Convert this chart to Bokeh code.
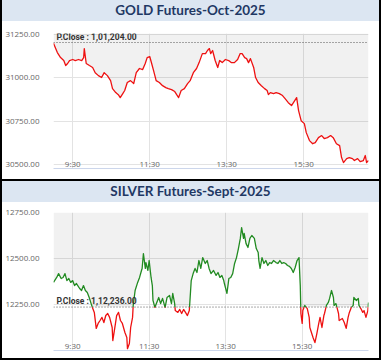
from bokeh.plotting import figure
from bokeh.models import Div, FixedTicker, NumeralTickFormatter, Span, Label, Range1d
from bokeh.layouts import column
from bokeh.core.properties import value
from bokeh.embed import file_html
from bokeh.resources import INLINE

# ---------------- data ----------------
x_ticks = [30, 150, 270, 390]            # minutes after 9:00
x_tick_labels = ["9:30", "11:30", "13:30", "15:30"]

gold_title = "GOLD Futures-Oct-2025"
gold_pclose = 31204
gold_pclose_label = "P.Close : 1,01,204.00"
gold_yticks = [30500, 30750, 31000, 31250]
gold_min = [0, 6, 11, 16, 19, 22, 25, 30, 34, 39,
            44, 47, 48, 51, 56, 61, 65, 70, 75, 79,
            84, 89, 92, 97, 101, 104, 108, 111, 115, 120,
            125, 129, 134, 139, 143, 146, 150, 153, 156, 160,
            165, 170, 175, 179, 184, 189, 192, 195, 199, 204,
            209, 213, 218, 223, 227, 232, 237, 240, 243, 245,
            248, 252, 256, 259, 263, 268, 273, 277, 282, 287,
            291, 294, 298, 301, 304, 307, 312, 315, 319, 324,
            329, 333, 335, 338, 343, 347, 352, 357, 361, 366,
            371, 374, 379, 382, 386, 391, 394, 399, 404, 408,
            413, 418, 422, 427, 432, 436, 441, 446, 449, 452,
            457, 461, 466, 469, 474, 478, 483, 486, 488, 491]
gold_price = [31200, 31146, 31117, 31100, 31071, 31083, 31100, 31106, 31100, 31106,
              31100, 31117, 31169, 31083, 31071, 31060, 31030, 31013, 31002, 31030,
              31013, 30984, 30938, 30915, 30903, 30886, 30909, 30927, 30973, 30984,
              30967, 31030, 31054, 31048, 31083, 31117, 31123, 31083, 31042, 30984,
              30973, 30955, 30944, 30938, 30932, 30921, 30903, 30886, 30927, 30938,
              30967, 30984, 31030, 31054, 31088, 31140, 31140, 31158, 31169, 31140,
              31158, 31100, 31060, 31100, 31088, 31106, 31100, 31088, 31088, 31106,
              31140, 31140, 31117, 31111, 31088, 31111, 31060, 31002, 30973, 30955,
              30938, 30927, 30903, 30915, 30909, 30915, 30909, 30898, 30880, 30857,
              30840, 30857, 30886, 30811, 30753, 30736, 30684, 30638, 30620, 30626,
              30655, 30667, 30650, 30655, 30667, 30655, 30620, 30609, 30540, 30511,
              30534, 30540, 30534, 30523, 30534, 30517, 30523, 30552, 30511, 30523]

silver_title = "SILVER Futures-Sept-2025"
silver_pclose = 12236
silver_pclose_label = "P.Close : 1,12,236.00"
silver_yticks = [12250, 12500, 12750]
silver_min = [0, 5, 8, 12, 15, 18, 21, 24, 27, 30,
              33, 36, 41, 44, 47, 50, 53, 56, 59, 61,
              64, 67, 70, 73, 76, 79, 82, 85, 88, 92,
              93, 96, 99, 102, 105, 108, 112, 115, 116, 119,
              121, 124, 125, 128, 132, 135, 138, 139, 141, 144,
              145, 148, 150, 153, 155, 156, 159, 162, 165, 168,
              171, 175, 178, 182, 185, 187, 190, 191, 195, 198,
              201, 204, 207, 210, 213, 215, 216, 219, 222, 225,
              228, 231, 234, 238, 241, 244, 247, 251, 255, 258,
              261, 264, 267, 268, 272, 275, 278, 281, 284, 287,
              290, 293, 295, 298, 299, 302, 305, 308, 311, 315,
              318, 321, 322, 324, 327, 330, 333, 336, 339, 342,
              345, 349, 352, 355, 358, 361, 364, 367, 370, 373,
              376, 379, 382, 385, 387, 388, 390, 391, 394, 398,
              401, 402, 407, 410, 413, 416, 418, 421, 424, 425,
              428, 431, 433, 436, 439, 440, 443, 447, 448, 453,
              456, 459, 462, 464, 467, 470, 471, 475, 478, 479,
              482, 485, 487, 490, 493, 494]
silver_price = [12370, 12397, 12418, 12391, 12397, 12418, 12380, 12391, 12370, 12380,
                12353, 12364, 12337, 12326, 12353, 12326, 12315, 12288, 12255, 12234,
                12207, 12120, 12147, 12163, 12180, 12152, 12190, 12201, 12180, 12125,
                12054, 12120, 12190, 12207, 12163, 12147, 12098, 12071, 12010, 12038,
                12125, 12180, 12245, 12326, 12370, 12397, 12435, 12446, 12527, 12446,
                12478, 12435, 12489, 12397, 12353, 12272, 12234, 12261, 12288, 12255,
                12283, 12234, 12288, 12299, 12255, 12310, 12255, 12217, 12207, 12223,
                12201, 12223, 12207, 12190, 12217, 12326, 12380, 12418, 12446, 12424,
                12489, 12446, 12505, 12473, 12489, 12446, 12418, 12435, 12408, 12424,
                12397, 12408, 12380, 12364, 12310, 12391, 12397, 12418, 12473, 12505,
                12554, 12609, 12668, 12609, 12636, 12581, 12560, 12609, 12625, 12609,
                12554, 12533, 12489, 12446, 12505, 12473, 12489, 12462, 12478, 12473,
                12489, 12478, 12473, 12489, 12473, 12478, 12473, 12462, 12457, 12446,
                12424, 12451, 12489, 12505, 12353, 12201, 12147, 12217, 12245, 12228,
                12180, 12125, 12071, 12043, 12092, 12147, 12180, 12125, 12190, 12201,
                12245, 12261, 12283, 12326, 12288, 12245, 12255, 12201, 12163, 12174,
                12152, 12120, 12180, 12207, 12234, 12245, 12288, 12272, 12283, 12245,
                12228, 12207, 12217, 12180, 12217, 12261]

# ---------------- styling ----------------
BAND = "#dce6f2"
NAVY = "#1f3864"
RED = "#ee1111"
GREEN = "#228b22"
INNER_W = 377


def split_runs(xs, ys, ref):
    """Split the series into runs above / below the reference value."""
    runs = []
    state = ys[0] >= ref
    cx, cy = [xs[0]], [ys[0]]
    ax, ay = [xs[0]], [ys[0]]
    for i in range(1, len(xs)):
        st = ys[i] >= ref
        if st != state:
            t = (ref - ys[i - 1]) / (ys[i] - ys[i - 1])
            xc = xs[i - 1] + t * (xs[i] - xs[i - 1])
            cx.append(xc); cy.append(ref)
            ax.append(xc); ay.append(ref)
            runs.append((state, cx, cy))
            cx, cy = [xc], [ref]
            state = st
        cx.append(xs[i]); cy.append(ys[i])
        ax.append(xs[i]); ay.append(ys[i])
    runs.append((state, cx, cy))
    return runs, ax, ay


def title_div(text):
    return Div(text=text, width=INNER_W, height=21, margin=0,
               styles={"background-color": BAND, "color": NAVY,
                       "font-family": "Lato", "font-weight": "bold",
                       "font-size": "13.5px", "text-align": "center",
                       "line-height": "21px"})


def panel(xs, ys, pclose, plabel, yticks, yr, height, borders, clip_at_pclose):
    p = figure(width=INNER_W, height=height,
               x_range=Range1d(xs[0], xs[-1]), y_range=Range1d(*yr),
               output_backend="svg", toolbar_location=None,
               min_border_left=borders[0], min_border_right=borders[1],
               min_border_top=borders[2], min_border_bottom=borders[3],
               background_fill_color="white", border_fill_color="white",
               outline_line_color=None)
    runs, ax, ay = split_runs(xs, ys, pclose)
    lower = [max(v, pclose) for v in ay] if clip_at_pclose else ay
    p.varea(x=ax, y1=lower, y2=yr[1], fill_color="black", fill_alpha=0.055)

    # bottom axis: line only (tick labels are drawn inside the frame below)
    p.xaxis.ticker = FixedTicker(ticks=[])
    p.xaxis.major_label_standoff = 0
    p.xaxis.major_tick_line_color = None
    p.xaxis.minor_tick_line_color = None
    p.xaxis.axis_line_color = "#ccd6eb"

    p.yaxis.ticker = FixedTicker(ticks=yticks)
    p.yaxis.formatter = NumeralTickFormatter(format="0.00")
    p.yaxis.axis_line_color = None
    p.yaxis.major_tick_line_color = None
    p.yaxis.minor_tick_line_color = None
    p.yaxis.major_label_text_font = "Open Sans"
    p.yaxis.major_label_text_font_size = "8px"
    p.yaxis.major_label_text_color = "#666666"
    p.yaxis.major_label_standoff = 8

    p.xgrid.ticker = FixedTicker(ticks=x_ticks)
    p.ygrid.ticker = FixedTicker(ticks=yticks)
    p.grid.grid_line_color = "#e3e3e3"

    p.add_layout(Span(location=pclose, dimension="width", line_color="#555555",
                      line_dash="1 2", line_width=1))

    for above, rx, ry in runs:
        p.line(rx, ry, line_color=GREEN if above else RED, line_width=1.3,
               line_join="round")

    p.text(x=x_ticks, y=[yr[0]] * len(x_ticks), text=x_tick_labels,
           text_align="center", text_baseline="bottom",
           text_font=value("Open Sans"), text_font_size="8px",
           text_color="#666666")

    p.add_layout(Label(x=xs[0], y=pclose, x_offset=3, y_offset=1, text=plabel,
                       text_baseline="bottom", text_font="Roboto",
                       text_font_size="8.5px", text_font_style="bold",
                       text_color="#333333"))
    return p


p1 = panel(gold_min, gold_price, gold_pclose, gold_pclose_label, gold_yticks,
           (30477, 31256), 158, (51, 11, 12, 11), False)
p2 = panel(silver_min, silver_price, silver_pclose, silver_pclose_label, silver_yticks,
           (12000, 12750), 156, (50, 6, 10, 8), True)

sep = Div(text="", width=INNER_W, height=2, margin=0,
          styles={"background-color": "black"})

root = column(title_div(gold_title), p1, sep, title_div(silver_title), p2,
              spacing=0,
              styles={"position": "absolute", "left": "0px", "top": "0px",
                      "border-left": "2px solid black",
                      "border-right": "2px solid black",
                      "border-bottom": "2px solid black"})

open("out.html", "w").write(file_html(root, INLINE))
